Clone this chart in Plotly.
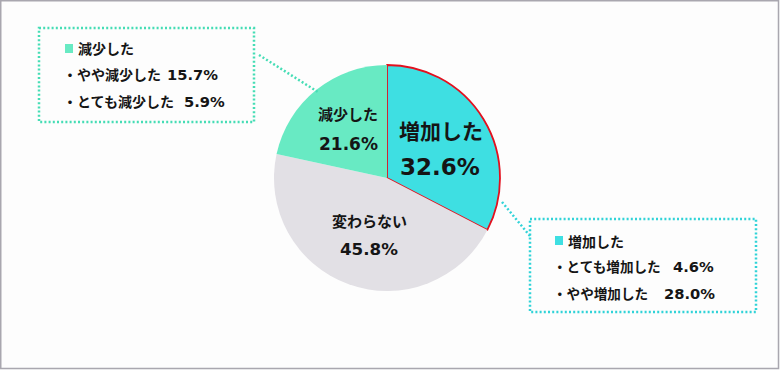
import plotly.graph_objects as go

# Data
categories = ["増加した", "変わらない", "減少した"]
values = [32.6, 45.8, 21.6]
slice_colors = ["#3EDFE2", "#E2E0E5", "#68EAC3"]
decrease_labels = ["やや減少した", "とても減少した"]
decrease_values = [15.7, 5.9]
increase_labels = ["とても増加した", "やや増加した"]
increase_values = [4.6, 28.0]

W, H = 780, 370
CJK = "Noto Sans CJK JP"
NUM = "DejaVu Sans, Noto Sans CJK JP"
TXT = "#151515"

fig = go.Figure()

cx, cy, r = 387, 178, 113
fig.add_trace(go.Pie(
    labels=categories, values=values, sort=False, direction="clockwise",
    rotation=0, textinfo="none", hoverinfo="label+percent",
    marker=dict(colors=slice_colors,
                line=dict(color=["#E3101E", "rgba(0,0,0,0)", "rgba(0,0,0,0)"],
                          width=[1.8, 0, 0])),
    domain=dict(x=[(cx - r) / W, (cx + r) / W], y=[1 - (cy + r) / H, 1 - (cy - r) / H]),
    showlegend=False,
))

# invisible pixel axes
fig.update_layout(
    width=W, height=H, margin=dict(l=0, r=0, t=0, b=0),
    paper_bgcolor="#FDFDFD", plot_bgcolor="rgba(0,0,0,0)",
    xaxis=dict(range=[0, W], visible=False, fixedrange=True),
    yaxis=dict(range=[H, 0], visible=False, fixedrange=True),
    font=dict(family=CJK, color=TXT),
)

shapes = []
# frame
shapes.append(dict(type="rect", x0=0.75, y0=0.75, x1=W - 1.5, y1=H - 1.5,
                   line=dict(color="#A9A7AF", width=1.5)))
green_dot = "#45DDB5"
cyan_dot = "#30D3D8"
dot = "2px,2.2px"
# left box + connector
shapes.append(dict(type="rect", x0=39, y0=28, x1=254, y1=122,
                   line=dict(color=green_dot, width=2.5, dash=dot)))
shapes.append(dict(type="line", x0=259, y0=55, x1=318, y1=92,
                   line=dict(color=green_dot, width=2.5, dash=dot)))
# right box + connector
shapes.append(dict(type="rect", x0=530, y0=219, x1=756, y1=312,
                   line=dict(color=cyan_dot, width=2.5, dash=dot)))
shapes.append(dict(type="line", x0=502, y0=202, x1=530, y1=236,
                   line=dict(color=cyan_dot, width=2.5, dash=dot)))
# legend squares
shapes.append(dict(type="rect", x0=65, y0=44, x1=73, y1=53,
                   fillcolor=slice_colors[2], line=dict(width=0)))
shapes.append(dict(type="rect", x0=555, y0=236, x1=563, y1=245,
                   fillcolor=slice_colors[0], line=dict(width=0)))

ann = []
def txt(x, y, s, size, anchor="center", family=CJK):
    ann.append(dict(x=x, y=y, xref="x", yref="y", text="<b>%s</b>" % s, showarrow=False,
                    xanchor=anchor, yanchor="middle",
                    font=dict(family=family, size=size, color=TXT)))

def pct(v):
    return "%.1f%%" % v

# pie labels
txt(441, 130, categories[0], 21)
txt(440, 167, pct(values[0]), 23, family=NUM)
txt(348, 113, categories[2], 15)
txt(348, 144, pct(values[2]), 17, family=NUM)
txt(369, 220, categories[1], 15)
txt(369, 249, pct(values[1]), 16.7, family=NUM)

# left box text
txt(76, 48, categories[2], 14, "left")
txt(61, 74, "・" + decrease_labels[0], 14, "left")
txt(165, 74, pct(decrease_values[0]), 14.7, "left", NUM)
txt(61, 101, "・" + decrease_labels[1], 14, "left")
txt(182, 101, pct(decrease_values[1]), 14.7, "left", NUM)
# right box text
txt(566, 241, categories[0], 14, "left")
txt(551, 266, "・" + increase_labels[0], 13.6, "left")
txt(671, 266, pct(increase_values[0]), 14.7, "left", NUM)
txt(551, 293, "・" + increase_labels[1], 13.6, "left")
txt(662, 293, pct(increase_values[1]), 14.7, "left", NUM)

fig.update_layout(shapes=shapes, annotations=ann)
fig.write_html("out.html", config={"displayModeBar": False},
               post_script="document.body.style.margin='0';document.body.style.padding='0';")
